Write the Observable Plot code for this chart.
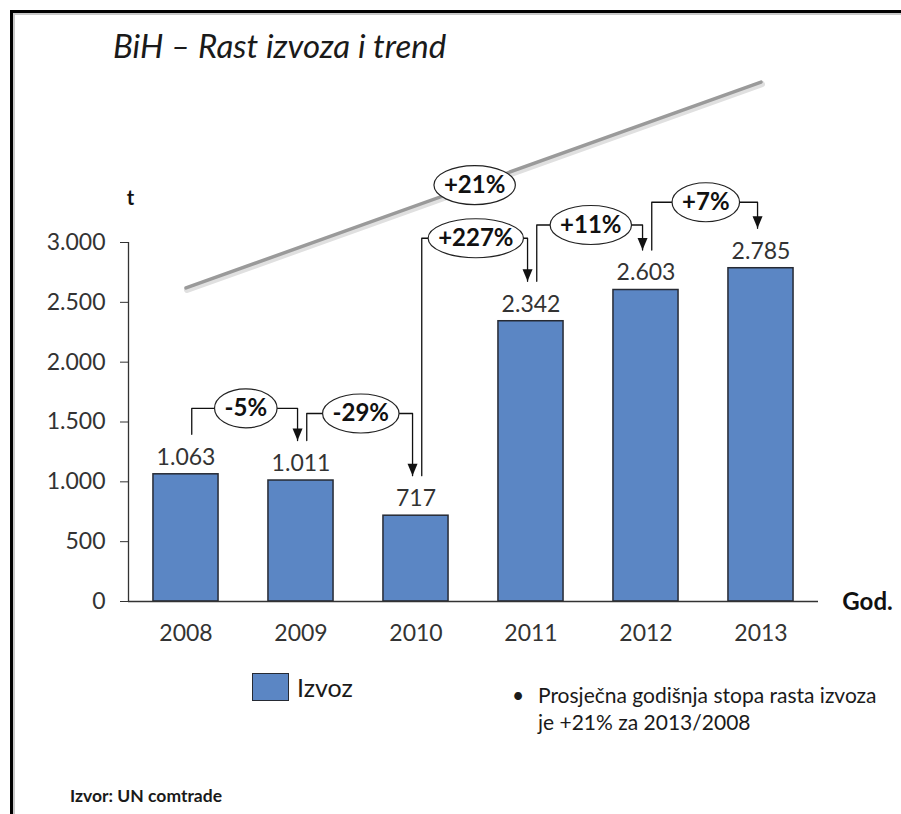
<!DOCTYPE html>
<html>
<head>
<meta charset="utf-8">
<script src="https://cdn.jsdelivr.net/npm/d3@7"></script>
<script src="https://cdn.jsdelivr.net/npm/@observablehq/plot@0.6"></script>
<style>
  body { margin: 0; background: #fff; }
  #page { position: relative; width: 901px; height: 814px; overflow: hidden; background: #fff; font-family: Lato, "Open Sans", sans-serif; color: #1a1a1a; }
  #chart { position: absolute; left: 0; top: 0; }
  #frame { position: absolute; left: 10px; top: 10px; width: 900px; height: 820px; border-top: 3px solid #000; border-left: 3px solid #000; box-shadow: inset 2px 2px 0 #c8c8c8; pointer-events: none; }
  #title { position: absolute; left: 113px; top: 26px; font-style: italic; font-size: 33px; line-height: 38px; white-space: nowrap; color: #1a1a1a; }
  #legend-swatch { position: absolute; left: 252px; top: 673px; width: 35px; height: 26px; background: #5b86c4; border: 1.5px solid #262a33; }
  #legend-label { position: absolute; left: 297px; top: 672px; font-size: 25px; line-height: 30px; color: #1a1a1a; }
  #note { position: absolute; left: 512px; top: 681px; font-size: 21px; line-height: 27px; color: #1a1a1a; white-space: nowrap; }
  #note .b { display: inline-block; width: 26px; }
  #note .l2 { padding-left: 26px; }
  #source { position: absolute; left: 70px; top: 785px; font-size: 17.5px; line-height: 22px; font-weight: bold; color: #1a1a1a; white-space: nowrap; }
</style>
</head>
<body>
<div id="page">
  <div id="chart"></div>
  <div id="title">BiH – Rast izvoza i trend</div>
  <div id="legend-swatch"></div>
  <div id="legend-label">Izvoz</div>
  <div id="note"><div><span class="b">•</span>Prosječna godišnja stopa rasta izvoza</div><div class="l2">je +21% za 2013/2008</div></div>
  <div id="source">Izvor: UN comtrade</div>
  <div id="frame"></div>
</div>
<script>
// ---- data ----
const years = [2008, 2009, 2010, 2011, 2012, 2013];
const exportValues = [1063, 1011, 717, 2342, 2603, 2785];
const changeLabels = ["-5%", "-29%", "+227%", "+11%", "+7%"];
const trendYears = [2008, 2013];
const trendValues = [2620, 4340];
const trendLabel = "+21%";
const yTicks = [0, 500, 1000, 1500, 2000, 2500, 3000];

// ---- layout ----
const W = 901, H = 680, mL = 128, mR = 83, mT = 242, mB = 79;
const xDomain = [2007.5, 2013.5], yDomain = [0, 3000];
const pxPerUnit = (H - mT - mB) / (yDomain[1] - yDomain[0]);
const u = px => px / pxPerUnit;            // pixels -> value units
const bracketRisePx = [66, 67, 83, 65, 66]; // height of bracket above higher bar
const barHalf = 0.283;

const fmt = d => d >= 1000 ? d3.format(",")(d).replace(/,/g, ".") : String(d);

const bars = years.map((year, i) => ({year, value: exportValues[i]}));
const trend = trendYears.map((year, i) => ({year, value: trendValues[i]}));

const ctx = document.createElement("canvas").getContext("2d");
ctx.font = "bold 24px Lato";
const brackets = changeLabels.map((label, i) => {
  const a = bars[i], b = bars[i + 1];
  const start = a.value + u(40), tip = b.value + u(40);
  const level = Math.max(a.value, b.value) + u(bracketRisePx[i]);
  return {
    label, xl: a.year + 0.05, xr: b.year - 0.03, start, tip, level,
    cx: (a.year + b.year) / 2 + 0.02,
    rx: ctx.measureText(label).width / 2 + 10
  };
});
const bracketPts = brackets.flatMap(b => [
  {label: b.label, x: b.xl, y: b.start},
  {label: b.label, x: b.xl, y: b.level},
  {label: b.label, x: b.xr, y: b.level},
  {label: b.label, x: b.xr, y: b.tip}
]);
const trendMid = {label: trendLabel, cx: (trendYears[0] + trendYears[1]) / 2 + 0.01, level: (trendValues[0] + trendValues[1]) / 2,
  rx: ctx.measureText(trendLabel).width / 2 + 10};

function ellipseSym(rx, ry) {
  const k = 0.5523;
  return {draw(c) {
    c.moveTo(rx, 0);
    c.bezierCurveTo(rx, ry * k, rx * k, ry, 0, ry);
    c.bezierCurveTo(-rx * k, ry, -rx, ry * k, -rx, 0);
    c.bezierCurveTo(-rx, -ry * k, -rx * k, -ry, 0, -ry);
    c.bezierCurveTo(rx * k, -ry, rx, -ry * k, rx, 0);
    c.closePath();
  }};
}
const arrowSym = {draw(c) { c.moveTo(-5, -12); c.lineTo(5, -12); c.lineTo(0, 0); c.closePath(); }};

const ellipseMarks = [...brackets, trendMid].map(b =>
  Plot.dot([b], {x: "cx", y: "level", r: 1, symbol: ellipseSym(b.rx, 19.5), fill: "white", stroke: "#222", strokeWidth: 1.2})
);

const chart = Plot.plot({
  width: W, height: H,
  marginLeft: mL, marginRight: mR, marginTop: mT, marginBottom: mB,
  x: {type: "linear", domain: xDomain},
  y: {type: "linear", domain: yDomain},
  style: {background: "transparent", fontFamily: "Lato, 'Open Sans', sans-serif"},
  marks: [
    Plot.line(trend, {x: "year", y: "value", stroke: "#e0e0e0", strokeWidth: 6, dx: 1, dy: 2}),
    Plot.line(trend, {x: "year", y: "value", stroke: "#9a9a9a", strokeWidth: 3.5}),
    Plot.rectY(bars, {x1: d => d.year - barHalf, x2: d => d.year + barHalf, y1: 0, y2: "value", fill: "#5b86c4", stroke: "#262a33", strokeWidth: 1.5}),
    Plot.text(bars, {x: "year", y: "value", text: d => fmt(d.value), dy: -17, fontSize: 23, fill: "#333"}),
    Plot.line(bracketPts, {x: "x", y: "y", z: "label", stroke: "#111", strokeWidth: 1.3}),
    ...ellipseMarks,
    Plot.text([...brackets, trendMid], {x: "cx", y: "level", text: "label", fontWeight: "bold", fontSize: 24, fill: "#111"}),
    Plot.dot(brackets, {x: "xr", y: "tip", r: 1, symbol: arrowSym, fill: "#111"}),
    Plot.ruleY([0], {stroke: "#333", strokeWidth: 1.3}),
    Plot.ruleX([xDomain[0]], {stroke: "#333", strokeWidth: 1.3}),
    Plot.axisY({ticks: yTicks, tickSize: 8, tickPadding: 15, tickFormat: fmt, fontSize: 23, color: "#333", label: null}),
    Plot.axisX({ticks: years, tickSize: 0, tickPadding: 23, tickFormat: d => String(d), fontSize: 23, color: "#333", label: null}),
    Plot.text(["t"], {frameAnchor: "top-left", text: d => d, textAnchor: "middle", lineAnchor: "middle", dx: 2, dy: -44, fontWeight: "bold", fontSize: 20, fill: "#111"}),
    Plot.text(["God."], {frameAnchor: "bottom-right", text: d => d, textAnchor: "middle", lineAnchor: "middle", dx: 49, dy: 1, fontWeight: "bold", fontSize: 24, fill: "#111"})
  ]
});
document.getElementById("chart").appendChild(chart);
</script>
</body>
</html>
